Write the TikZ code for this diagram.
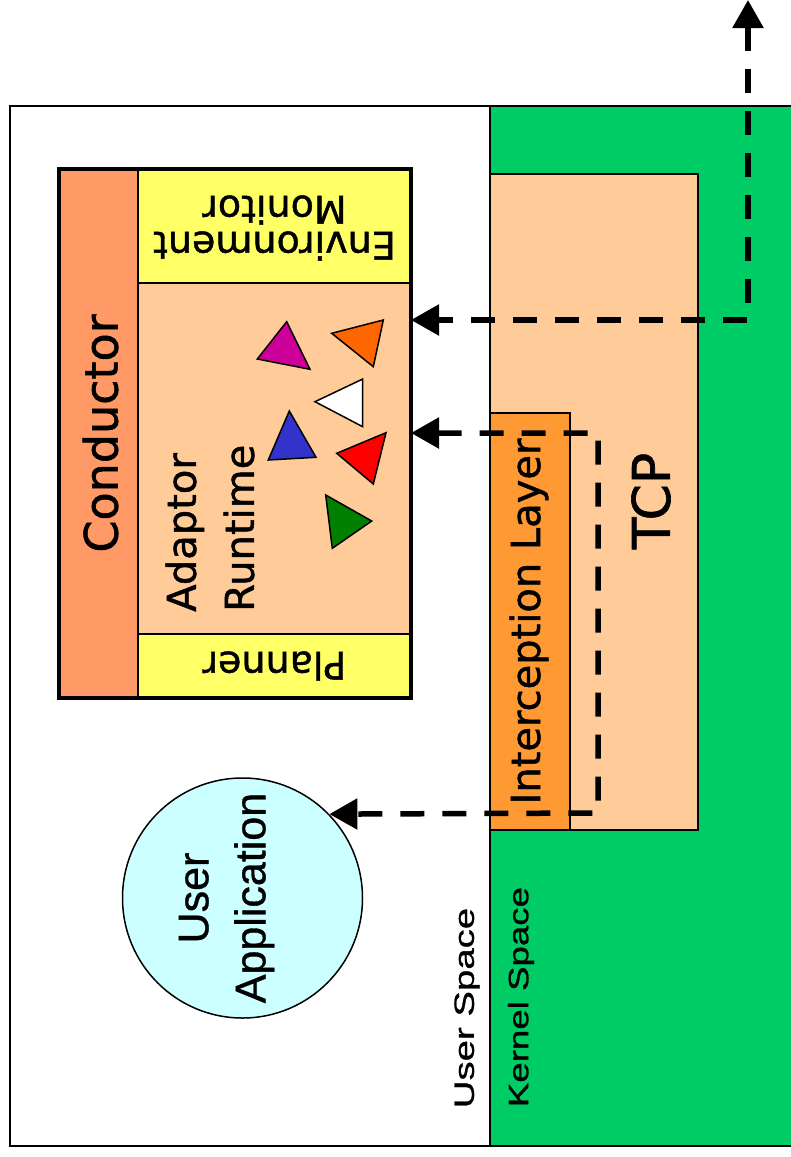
\documentclass[tikz,border=0pt]{standalone}
\usepackage{fontspec}
\setmainfont{DejaVu Sans}[FakeBold=1.2]
\newfontfamily\arialfont{Liberation Sans}[FakeBold=0.8]
\usetikzlibrary{arrows.meta}

\definecolor{kernelgreen}{HTML}{00CC66}
\definecolor{peach}{HTML}{FFCC99}
\definecolor{interorange}{HTML}{FF9933}
\definecolor{salmon}{HTML}{FF9966}
\definecolor{paleyellow}{HTML}{FFFF66}
\definecolor{palecyan}{HTML}{CCFFFF}
\definecolor{trimagenta}{HTML}{CC0099}
\definecolor{triorange}{HTML}{FF6600}
\definecolor{triblue}{HTML}{3333CC}
\definecolor{trired}{HTML}{FF0000}
\definecolor{trigreen}{HTML}{008000}

\newcommand{\fsz}[2]{\fontsize{#1}{#2}\selectfont}

\begin{document}
\begin{tikzpicture}[x=1pt,y=-1pt,
  area/.style={draw=black, line width=1.5pt, inner sep=0pt, outer sep=0pt, anchor=north west},
  frame/.style={draw=black, line width=4pt, inner sep=0pt, outer sep=0pt, anchor=north west},
  label/.style={inner sep=0pt, text=black},
  tri/.style={draw=black, line width=1.5pt, line join=miter},
  flow/.style={line width=5.5pt, dash pattern=on 24pt off 18pt,
    {Triangle[length=28pt,width=30pt]}-{Triangle[length=28pt,width=30pt]}}]
\useasboundingbox (0,0) rectangle (791,1157);

% user space / kernel space
\node[area, fill=white, minimum width=800pt, minimum height=1040pt] (user) at (10,106) {};
\node[area, fill=kernelgreen, minimum width=320pt, minimum height=1040pt] (kernel) at (490,106) {};

% TCP stack and interception layer
\node[area, line width=2pt, fill=peach, minimum width=208pt, minimum height=656pt] (tcp) at (490,174) {};
\node[area, fill=interorange, minimum width=80pt, minimum height=417pt] (intercept) at (490,413) {};

% adaptor framework
\node[area, fill=salmon, minimum width=79pt, minimum height=529pt] (conductor) at (59,169) {};
\node[area, fill=paleyellow, minimum width=273pt, minimum height=114pt] (envmon) at (138,169) {};
\node[area, fill=peach, minimum width=273pt, minimum height=351pt] (runtime) at (138,283) {};
\node[area, fill=paleyellow, minimum width=273pt, minimum height=64pt] (planner) at (138,634) {};
\node[frame, minimum width=352pt, minimum height=529pt] (framework) at (59,169) {};

% user application
\node[circle, draw=black, line width=1.5pt, fill=palecyan, minimum size=240pt, inner sep=0pt] (app) at (242.5,898) {};

% adaptors
\filldraw[tri, fill=trimagenta] (286.7,321.7) -- (257.3,359) -- (310,369.3) -- cycle;
\filldraw[tri, fill=triorange] (331.7,333.3) -- (383.3,320) -- (373.3,366.7) -- cycle;
\filldraw[tri, fill=white] (315,401.7) -- (362.7,379) -- (362.7,426.7) -- cycle;
\filldraw[tri, fill=triblue] (289.3,411) -- (268.3,460) -- (316,457.3) -- cycle;
\filldraw[tri, fill=trired] (336.7,453.3) -- (386,432.7) -- (373.3,484) -- cycle;
\filldraw[tri, fill=trigreen] (325.7,495) -- (371.7,521) -- (332.3,548.3) -- cycle;

% labels
\node[label, rotate=90, font=\fsz{46}{46}] (lcond) at ([xshift=2pt]conductor.center) {Conductor};
\node[label, rotate=180, align=center, font=\fsz{38}{36}] (lenv) at ([yshift=-2pt]envmon.center) {Environment\\Monitor};
\node[label, rotate=180, font=\fsz{38}{38}] (lplan) at (planner.center) {Planner};
\node[label, rotate=90, align=left, anchor=west, font=\fsz{40}{58}] (lrun) at (210,612) {Adaptor\\Runtime};
\node[label, rotate=90, font=\fsz{40}{40}] (lint) at ([xshift=-1pt]intercept.center) {Interception Layer};
\node[label, rotate=90, font=\fsz{52}{52}] (ltcp) at (651,501) {TCP};
\node[label, rotate=90, align=center, font=\arialfont\fsz{43}{57}] (lapp) at ([xshift=-16pt]app.center) {User\\Application};
\node[label, rotate=90, font=\arialfont\fsz{28}{28}] (luser) at (467,1008) {\scalebox{1.37}[1]{User Space}};
\node[label, rotate=90, font=\arialfont\fsz{28}{28}] (lkern) at (521,997) {\scalebox{1.31}[1]{Kernel Space}};

% data paths
\coordinate (netout) at (748,0);
\coordinate (netbend) at (748,320);
\coordinate (loopturn) at (598,433);
\coordinate (loopdown) at (598,813);
\draw[flow] (netout) -- (netbend) -- (netbend -| runtime.east);
\draw[flow] (loopturn -| runtime.east) -- (loopturn) -- (loopdown) -- (app.44.4);
\end{tikzpicture}
\end{document}
